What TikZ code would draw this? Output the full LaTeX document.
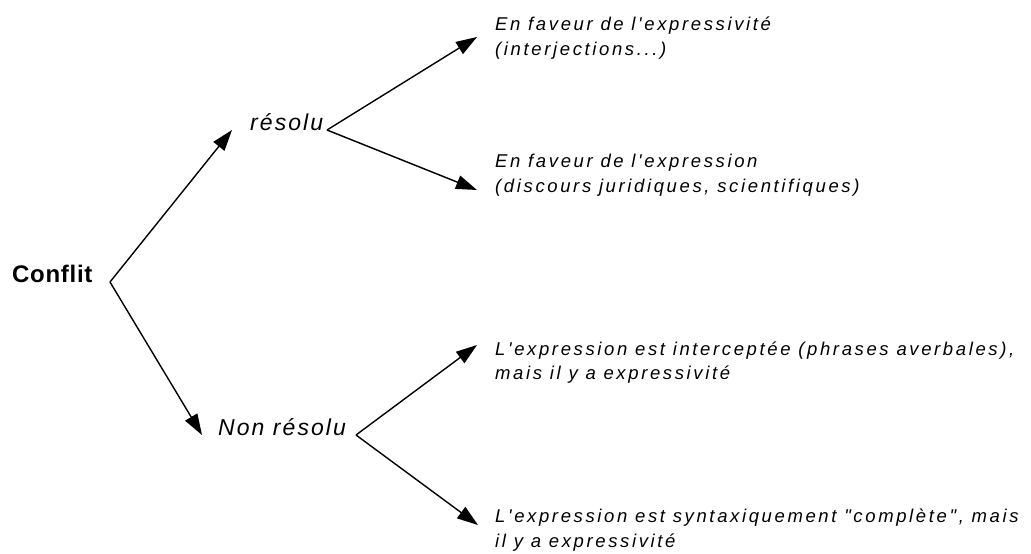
\documentclass[tikz,border=0pt]{standalone}
\usepackage{fontspec}
\setmainfont{Liberation Sans}[Ligatures=TeXOff]
\newfontfamily\lblfont{Liberation Sans}[Ligatures=TeXOff,LetterSpace=14.2]
\newfontfamily\midfont{Liberation Sans}[Ligatures=TeXOff,LetterSpace=9]
\newfontfamily\titlefont{Liberation Sans}[Ligatures=TeXOff,LetterSpace=3]
\usetikzlibrary{arrows.meta}
\begin{document}
\begin{tikzpicture}[x=1pt,y=-1pt,
  lbl/.style={inner sep=0pt,font=\lblfont\fontsize{18.5}{24.3}\selectfont\itshape,align=left,anchor=base west},
  midlbl/.style={inner sep=0pt,font=\midfont\fontsize{23}{27}\selectfont\itshape,anchor=base west},
  arr/.style={line width=1.4pt,-{Triangle[length=21pt,width=14pt]}}]
\useasboundingbox (0,0) rectangle (1031,554);
\node[inner sep=0pt,anchor=base west,font=\titlefont\fontsize{24}{28}\selectfont\bfseries] (conflit) at (12,282) {Conflit};
\node[midlbl] (resolu) at (250,130) {résolu};
\node[midlbl] (nonresolu) at (218,435) {Non résolu};
\coordinate (cv) at (110,282);
\coordinate (rv) at (327,130);
\coordinate (nv) at (356,435);
\coordinate (tr) at (232,130);
\coordinate (tn) at (202,435);
\node[lbl] (a) at (495,55) {En faveur de l'expressivité\\(interjections...)};
\node[lbl] (b) at (495,192) {En faveur de l'expression\\(discours juridiques, scientifiques)};
\node[lbl] (c) at (495,379.5) {L'expression est interceptée (phrases averbales),\\mais il y a expressivité};
\node[lbl] (d) at (495,547) {L'expression est syntaxiquement "complète", mais\\il y a expressivité};
\coordinate (ta) at (477,37);
\coordinate (tb) at (477,190);
\coordinate (tc) at (477,345);
\coordinate (td) at (478,525);
\draw[arr] (cv) -- (tr);
\draw[arr] (cv) -- (tn);
\draw[arr] (rv) -- (ta);
\draw[arr] (rv) -- (tb);
\draw[arr] (nv) -- (tc);
\draw[arr] (nv) -- (td);
\end{tikzpicture}
\end{document}
